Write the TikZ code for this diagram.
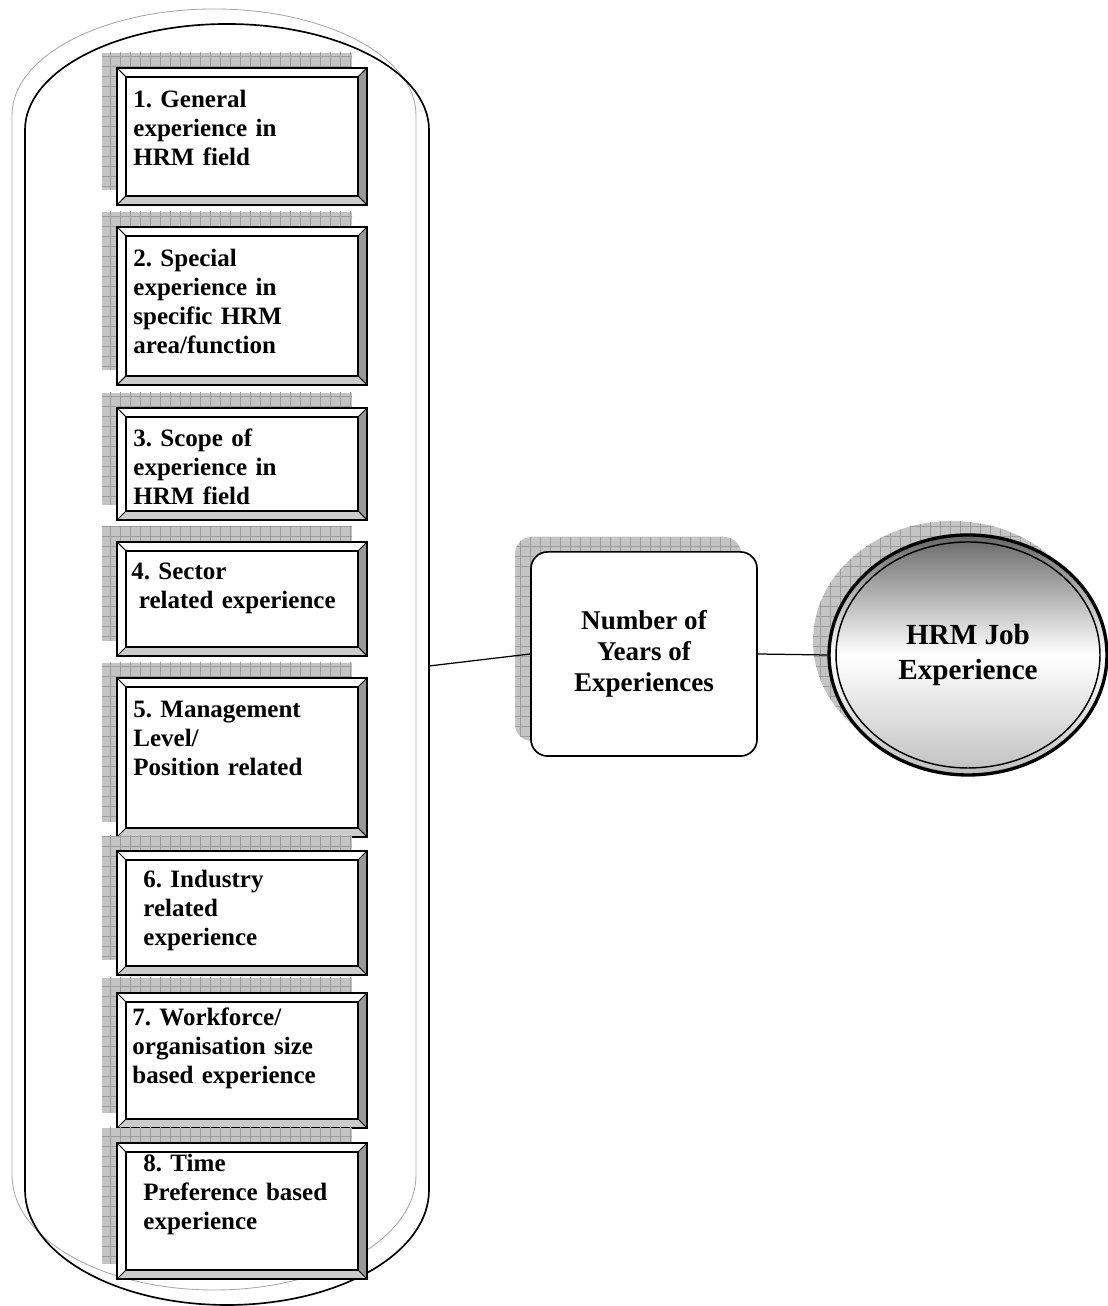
\documentclass[tikz,border=0pt]{standalone}
\usepackage{fontspec}
\setmainfont{Liberation Serif}
\usetikzlibrary{shapes.geometric,patterns.meta}
\definecolor{hrmshade}{HTML}{C4C4C4}
\definecolor{hrmgrid}{HTML}{9C9C9C}
\definecolor{hrmbevel}{HTML}{999999}
\definecolor{hrmlow}{HTML}{CCCCCC}

\begin{document}
\begin{tikzpicture}[x=0.48pt,y=0.48pt,
  gridshade/.style={fill=hrmshade,
    postaction={pattern={Lines[angle=0,distance=4.8pt,line width=0.35pt]},pattern color=hrmgrid},
    postaction={pattern={Lines[angle=90,distance=4.8pt,line width=0.35pt]},pattern color=hrmgrid}},
  itemtext/.style={anchor=base west,inner sep=0pt,text width=112pt,align=left,
    font=\fontsize{12}{13.9}\selectfont\bfseries\frenchspacing},
  midbox/.style={draw,line width=0.8pt,fill=white,rounded corners=8pt,
    minimum width=108.5pt,minimum height=98pt,align=center,
    font=\fontsize{13}{14.9}\selectfont\bfseries},
  goalnode/.style={ellipse,draw,line width=1.6pt,minimum width=133.4pt,minimum height=115.2pt,
    inner sep=0pt,top color=black!60,bottom color=black!25,middle color=white,align=center,
    font=\fontsize{14}{16.8}\selectfont\bfseries}]
  \useasboundingbox (0,0) rectangle (1107,1306);
  % container and its outline shadow
  \draw[black!35,line width=0.4pt] (12,1191) arc[start angle=180,end angle=0,x radius=202,y radius=106]
    -- (416,131) arc[start angle=0,end angle=-180,x radius=202,y radius=115] -- cycle;
  \draw[line width=0.8pt] (25,1176) arc[start angle=180,end angle=0,x radius=202,y radius=106]
    -- (429,116) arc[start angle=0,end angle=-180,x radius=202,y radius=115] -- cycle;
  \coordinate (pillR) at (429,640);
  % bevelled experience boxes
  \foreach \n/\yt/\yb/\yl/\xl/\txt in {
    1/1238/1101/1198/133/{1. General\\experience in\\HRM field},
    2/1079/921/1039/133/{2. Special\\experience in\\specific HRM\\area/function},
    3/898/786/859/133/{3. Scope of\\experience in\\HRM field},
    4/764/650/726/131/{4. Sector\\\hspace*{0.3em}related experience},
    5/628/469/588/133/{5. Management\\Level/\\Position related},
    6/455/331/418/143/{6. Industry\\related\\experience},
    7/313/178/280/132/{7. Workforce/\\organisation size\\based experience},
    8/163/27/134/143/{8. Time\\Preference based\\experience}} {
    \fill[gridshade] (102,\yt+15) rectangle (352,\yb+15);
    \fill[white] (117,\yt) rectangle (367,\yb);
    \fill[hrmbevel] (367,\yt) -- (367,\yb) -- (358,\yb+9) -- (358,\yt-9) -- cycle;
    \fill[hrmlow] (117,\yb) -- (367,\yb) -- (358,\yb+9) -- (126,\yb+9) -- cycle;
    \draw[line width=1pt] (117,\yt) rectangle (367,\yb);
    \draw[line width=0.8pt] (126,\yt-9) rectangle (358,\yb+9);
    \draw[line width=0.5pt] (117,\yt) -- (126,\yt-9) (367,\yt) -- (358,\yt-9)
      (117,\yb) -- (126,\yb+9) (367,\yb) -- (358,\yb+9);
    \node[itemtext] (t\n) at (\xl,\yl) {\txt};
  }
  % years box
  \fill[gridshade,rounded corners=8pt] (515,769) rectangle (741,565);
  \node[midbox] (mid) at (644,652) {Number of\\Years of\\Experiences};
  % outcome ellipse
  \fill[gridshade] (952,665) ellipse[x radius=139,y radius=120];
  \node[goalnode] (goal) at (968,651) {HRM Job\\Experience};
  \draw[line width=0.7pt] (goal.center) ellipse[x radius=132,y radius=113];
  % links
  \draw[line width=0.6pt] (pillR) -- (mid.west);
  \draw[line width=0.6pt] (mid.east) -- (goal.west);
\end{tikzpicture}
\end{document}
